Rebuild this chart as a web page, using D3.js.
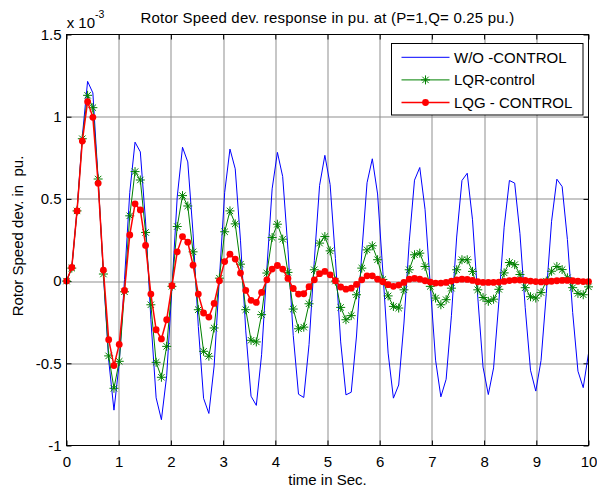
<!DOCTYPE html>
<html>
<head>
<meta charset="utf-8">
<script src="https://cdn.jsdelivr.net/npm/d3@7/dist/d3.min.js"></script>
<style>
    body { margin: 0; background: #fff; }
    text { font-family: "Liberation Sans", Arial, sans-serif; }
</style>
</head>
<body>
<div class="main"></div>
<script>
const seriesNames = ["W/O -CONTROL", "LQR-control", "LQG - CONTROL"]
const xTicks = [0, 1, 2, 3, 4, 5, 6, 7, 8, 9, 10]
const yTicks = [-1, -0.5, 0, 0.5, 1, 1.5]

// time vector, 100 samples from 0 to 10 s
const time = d3.range(100).map(i => i * 10 / 99)

// rotor speed deviation, x 1e-3 pu
const woControl = [0, 0.08, 0.43, 0.88, 1.215, 1.145, 0.62, 0.04, -0.48, -0.785,
    -0.50, 0.01, 0.54, 0.845, 0.786, 0.36, -0.233, -0.71, -0.843, -0.576,
    -0.039, 0.512, 0.814, 0.725, 0.292, -0.277, -0.713, -0.805, -0.516, 0.018,
    0.54, 0.803, 0.683, 0.245, -0.303, -0.70, -0.756, -0.448, 0.074, 0.561,
    0.783, 0.636, 0.194, -0.33, -0.688, -0.708, -0.386, 0.125, 0.582, 0.765,
    0.587, 0.137, -0.37, -0.692, -0.676, -0.334, 0.171, 0.598, 0.744, 0.53,
    0.056, -0.438, -0.712, -0.632, -0.255, 0.24, 0.614, 0.691, 0.437, -0.027,
    -0.481, -0.704, -0.597, -0.211, 0.268, 0.612, 0.656, 0.373, -0.098, -0.523,
    -0.69, -0.528, -0.125, 0.328, 0.612, 0.596, 0.288, -0.162, -0.542, -0.669,
    -0.483, -0.075, 0.364, 0.62, 0.575, 0.253, -0.191, -0.548, -0.648, -0.44]

const lqrControl = [0, 0.079, 0.427, 0.866, 1.13, 1.055, 0.621, 0.043, -0.455, -0.652,
    -0.488, -0.065, 0.397, 0.666, 0.615, 0.296, -0.144, -0.494, -0.585, -0.397,
    -0.032, 0.332, 0.52, 0.457, 0.178, -0.174, -0.427, -0.457, -0.285, 0.018,
    0.30, 0.427, 0.348, 0.103, -0.174, -0.36, -0.37, -0.204, 0.049, 0.265,
    0.346, 0.255, 0.053, -0.17, -0.29, -0.28, -0.138, 0.069, 0.231, 0.271,
    0.184, 0.0, -0.16, -0.235, -0.21, -0.083, 0.079, 0.19, 0.215, 0.13,
    0.01, -0.09, -0.154, -0.164, -0.053, 0.069, 0.16, 0.17, 0.089, -0.032,
    -0.103, -0.144, -0.113, -0.043, 0.069, 0.13, 0.13, 0.059, -0.053, -0.1,
    -0.123, -0.11, -0.05, 0.05, 0.113, 0.1, 0.04, -0.04, -0.095, -0.103,
    -0.07, 0.0, 0.06, 0.089, 0.07, 0.02, -0.04, -0.075, -0.083, -0.035]

const lqgControl = [0, 0.083, 0.427, 0.852, 1.091, 0.996, 0.595, 0.067, -0.356, -0.514,
    -0.385, -0.057, 0.281, 0.470, 0.433, 0.217, -0.079, -0.296, -0.352, -0.235,
    -0.028, 0.178, 0.271, 0.237, 0.097, -0.079, -0.194, -0.219, -0.136, 0.002,
    0.119, 0.164, 0.134, 0.049, -0.057, -0.117, -0.130, -0.069, 0.008, 0.073,
    0.095, 0.073, 0.016, -0.045, -0.079, -0.077, -0.034, 0.008, 0.045, 0.059,
    0.038, 0.002, -0.036, -0.049, -0.043, -0.02, 0.008, 0.032, 0.032, 0.012,
    -0.004, -0.022, -0.032, -0.024, -0.008, 0.012, 0.016, 0.012, 0.002, -0.006,
    -0.012, -0.012, -0.008, 0.0, 0.008, 0.012, 0.01, 0.004, -0.004, -0.008,
    -0.008, -0.008, -0.006, -0.002, 0.003, 0.006, 0.006, 0.004, 0.0, -0.003,
    -0.005, -0.004, -0.001, 0.002, 0.004, 0.004, 0.002, -0.001, -0.003, -0.003]

const W = 597, H = 488
const margin = { top: 34.5, right: 8.5, bottom: 42.5, left: 66.5 },
    width = W - margin.left - margin.right,
    height = H - margin.top - margin.bottom;

const svg = d3.select(".main")
    .append("svg")
    .attr("width", W)
    .attr("height", H)

const g = svg.append("g")
    .attr("transform", `translate(${margin.left}, ${margin.top})`)

const x = d3.scaleLinear().domain([0, 10]).range([0, width])
const y = d3.scaleLinear().domain([-1, 1.5]).range([height, 0])

// grid
g.selectAll(".gx")
    .data(xTicks.slice(1, -1))
    .join("line")
    .attr("x1", d => Math.round(x(d)) + 0.5).attr("x2", d => Math.round(x(d)) + 0.5)
    .attr("y1", 0).attr("y2", height)
    .attr("stroke", "#8f8f8f")
g.selectAll(".gy")
    .data(yTicks.slice(1, -1))
    .join("line")
    .attr("x1", 0).attr("x2", width)
    .attr("y1", d => Math.round(y(d)) + 0.5).attr("y2", d => Math.round(y(d)) + 0.5)
    .attr("stroke", "#8f8f8f")

// axes with inward ticks on all four sides
const fmt = d => String(d)
const styleAxis = sel => {
    sel.select(".domain").remove()
    sel.selectAll("line").attr("stroke", "#000")
    sel.selectAll("text").attr("font-size", 15).attr("fill", "#000")
        .style("font-family", '"Liberation Sans", Arial, sans-serif')
}
g.append("g").attr("transform", `translate(0, ${height})`)
    .call(d3.axisBottom(x).tickValues(xTicks).tickFormat(fmt).tickSizeInner(-5).tickSizeOuter(0).tickPadding(11))
    .call(styleAxis)
g.append("g")
    .call(d3.axisTop(x).tickValues(xTicks).tickFormat("").tickSizeInner(-5).tickSizeOuter(0))
    .call(styleAxis)
g.append("g")
    .call(d3.axisLeft(y).tickValues(yTicks).tickFormat(fmt).tickSizeInner(-5).tickSizeOuter(0).tickPadding(5))
    .call(styleAxis)
g.append("g").attr("transform", `translate(${width}, 0)`)
    .call(d3.axisRight(y).tickValues(yTicks).tickFormat("").tickSizeInner(-5).tickSizeOuter(0))
    .call(styleAxis)

const line = d3.line()
    .x((d, i) => x(time[i]))
    .y(d => y(d))

g.append("path")
    .attr("d", line(woControl))
    .attr("fill", "none")
    .attr("stroke", "#0000ff")
    .attr("stroke-width", 1)

const star = "M-4.5,0H4.5M0,-4.5V4.5M-3.2,-3.2L3.2,3.2M-3.2,3.2L3.2,-3.2"

g.append("path")
    .attr("d", line(lqrControl))
    .attr("fill", "none")
    .attr("stroke", "#008000")
    .attr("stroke-width", 1)
g.selectAll(".lqr")
    .data(lqrControl)
    .join("path")
    .attr("transform", (d, i) => `translate(${x(time[i])}, ${y(d)})`)
    .attr("d", star)
    .attr("fill", "none")
    .attr("stroke", "#008000")
    .attr("stroke-width", 1)

g.append("path")
    .attr("d", line(lqgControl))
    .attr("fill", "none")
    .attr("stroke", "#ff0000")
    .attr("stroke-width", 1.5)
g.selectAll(".lqg")
    .data(lqgControl)
    .join("circle")
    .attr("cx", (d, i) => x(time[i]))
    .attr("cy", d => y(d))
    .attr("r", 3.4)
    .attr("fill", "#ff0000")

// box
g.append("rect")
    .attr("width", width).attr("height", height)
    .attr("fill", "none").attr("stroke", "#000")

// legend
const legend = svg.append("g").attr("transform", "translate(391.5, 43.5)")
legend.append("rect")
    .attr("width", 191.5).attr("height", 71.5)
    .attr("fill", "#fff").attr("stroke", "#000")
const entries = [
    { name: seriesNames[0], color: "#0000ff", mark: null },
    { name: seriesNames[1], color: "#008000", mark: "star" },
    { name: seriesNames[2], color: "#ff0000", mark: "dot" }
]
const items = legend.selectAll(".item")
    .data(entries)
    .join("g")
    .attr("transform", (d, i) => `translate(0, ${13.8 + i * 22.6})`)
items.append("line")
    .attr("x1", 10).attr("x2", 58)
    .attr("stroke", d => d.color)
    .attr("stroke-width", d => d.mark === "dot" ? 1.5 : 1)
items.filter(d => d.mark === "star").append("path")
    .attr("transform", "translate(34, 0)")
    .attr("d", star).attr("fill", "none").attr("stroke", d => d.color)
items.filter(d => d.mark === "dot").append("circle")
    .attr("cx", 34).attr("r", 3.4).attr("fill", d => d.color)
items.append("text")
    .attr("x", 62.5).attr("dy", "0.35em")
    .attr("font-size", 15)
    .text(d => d.name)

// title and labels
svg.append("text")
    .attr("x", margin.left + width / 2).attr("y", 23.3)
    .attr("text-anchor", "middle")
    .attr("font-size", 15)
    .attr("letter-spacing", 0.2)
    .text("Rotor Speed dev. response in pu. at (P=1,Q= 0.25 pu.)")

const mult = svg.append("text")
    .attr("x", 66.7).attr("y", 28.3)
    .attr("font-size", 15)
mult.append("tspan").text("x 10")
mult.append("tspan").attr("dy", -10).attr("font-size", 10.5).text("-3")

svg.append("text")
    .attr("x", margin.left + width / 2).attr("y", 485)
    .attr("text-anchor", "middle")
    .attr("font-size", 15)
    .text("time in Sec.")

svg.append("text")
    .attr("transform", `translate(23, ${margin.top + height / 2 - 4}) rotate(-90)`)
    .attr("text-anchor", "middle")
    .attr("font-size", 15)
    .style("white-space", "pre")
    .text("Rotor Speed dev. in  pu.")
</script>
</body>
</html>
